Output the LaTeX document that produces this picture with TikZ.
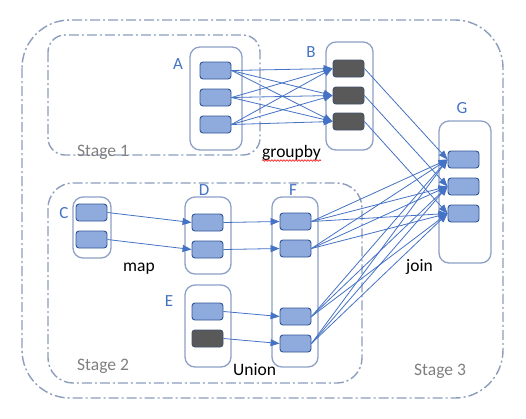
\documentclass[tikz,border=0pt]{standalone}
\usepackage{fontspec}
\setmainfont{Carlito}
\usetikzlibrary{arrows.meta,decorations.pathmorphing,calc}
\definecolor{arrowblue}{HTML}{4472C4}
\definecolor{cellfill}{HTML}{8FAADC}
\definecolor{cellline}{HTML}{2F5597}
\definecolor{darkcell}{HTML}{595959}
\definecolor{darkline}{HTML}{41526E}
\definecolor{boxline}{HTML}{8EA0C4}
\definecolor{stageline}{HTML}{8C9DBD}
\definecolor{stagetext}{HTML}{7F7F7F}
\begin{document}
\begin{tikzpicture}[x=1pt,y=-1pt,
  cell/.style={draw=cellline, fill=cellfill, rounded corners=3pt, minimum width=31pt, minimum height=17pt, inner sep=0pt, line width=0.9pt},
  dcell/.style={cell, fill=darkcell, draw=darkline},
  container/.style={draw=boxline, rounded corners=10pt, line width=1.3pt, inner sep=0pt},
  stagebox/.style={draw=stageline, line width=1.4pt, dash pattern=on 10pt off 3pt on 2pt off 3pt},
  flow/.style={draw=arrowblue, line width=0.8pt, -{Triangle[length=9pt,width=7pt]}},
  letter/.style={text=arrowblue, font=\fontsize{17}{20}\selectfont, inner sep=0pt},
  txt/.style={font=\fontsize{17.5}{20}\selectfont, inner sep=0pt, anchor=base west},
  stagetxt/.style={txt, text=stagetext}]
\useasboundingbox (0,0) rectangle (526,418);
% stages
\draw[stagebox, rounded corners=48pt] (22,20) rectangle (503,398);
\draw[stagebox, rounded corners=17pt] (48,35) rectangle (260,155);
\draw[stagebox, rounded corners=25pt] (48,183) rectangle (362,383);
% containers
\node (boxA) [container, minimum width=52pt, minimum height=103pt] at (216,98.5) {};
\node (boxB) [container, minimum width=47pt, minimum height=108pt] at (349.5,96) {};
\node (boxG) [container, minimum width=52pt, minimum height=142pt] at (465,192) {};
\node (boxC) [container, minimum width=38pt, minimum height=61pt] at (92,227.5) {};
\node (boxD) [container, minimum width=46pt, minimum height=77pt] at (208,235.5) {};
\node (boxE) [container, minimum width=46pt, minimum height=82pt] at (208,326) {};
\node (boxF) [container, minimum width=46pt, minimum height=170pt] at (295,282) {};
% cells
\node (a1) [cell] at (215.5,70.5) {};
\node (a2) [cell] at (215.5,97.5) {};
\node (a3) [cell] at (215.5,124.5) {};
\node (b1) [dcell] at (348.5,68.5) {};
\node (b2) [dcell] at (348.5,95.5) {};
\node (b3) [dcell] at (348.5,121.5) {};
\node (g1) [cell] at (463.5,159.5) {};
\node (g2) [cell] at (463.5,186.5) {};
\node (g3) [cell] at (463.5,213.5) {};
\node (c1) [cell] at (91.5,212.5) {};
\node (c2) [cell] at (91.5,239.5) {};
\node (d1) [cell] at (207.5,222.5) {};
\node (d2) [cell] at (207.5,249.5) {};
\node (e1) [cell] at (207.5,311.5) {};
\node (e2) [dcell] at (207.5,338.5) {};
\node (f1) [cell] at (295.5,221.5) {};
\node (f2) [cell] at (295.5,248.5) {};
\node (f3) [cell] at (295.5,316.5) {};
\node (f4) [cell] at (295.5,343.5) {};
% letters
\node (labA) [letter] at (178,64) {A};
\node (labB) [letter] at (311,52) {B};
\node (labC) [letter] at (64,213) {C};
\node (labD) [letter] at (204,190) {D};
\node (labE) [letter] at (169,301) {E};
\node (labF) [letter] at (293,190) {F};
\node (labG) [letter] at (462,108) {G};
% texts
\node (tgroupby) [txt] at (262,157) {groupby};
\node (tmap) [txt] at (123,271) {map};
\node (tjoin) [txt] at (406,271) {join};
\node (tunion) [txt] at (233,375) {Union};
\node (tstage1) [stagetxt] at (77,156) {Stage 1};
\node (tstage2) [stagetxt] at (77,370) {Stage 2};
\node (tstage3) [stagetxt] at (414,375) {Stage 3};
\coordinate (wavyL) at ($(tgroupby.base west)+(0,3.5)$);
\coordinate (wavyR) at ($(tgroupby.base east)+(0,3.5)$);
\draw[red, line width=0.6pt, decorate, decoration={snake, amplitude=0.8pt, segment length=3pt}] (wavyL) -- (wavyR);
% arrows
\foreach \i in {1,2,3}{\foreach \j in {1,2,3}{\draw[flow] (a\i.east) -- (b\j.west);}}
\foreach \i in {1,2,3}{\draw[flow] (b\i.east) -- (g\i.west);}
\draw[flow] (c1.east) -- (d1.west);
\draw[flow] (c2.east) -- (d2.west);
\draw[flow] (d1.east) -- (f1.west);
\draw[flow] (d2.east) -- (f2.west);
\draw[flow] (e1.east) -- (f3.west);
\draw[flow] (e2.east) -- (f4.west);
\foreach \i in {1,2,3,4}{\foreach \j in {1,2,3}{\draw[flow] (f\i.east) -- (g\j.west);}}
\end{tikzpicture}
\end{document}
